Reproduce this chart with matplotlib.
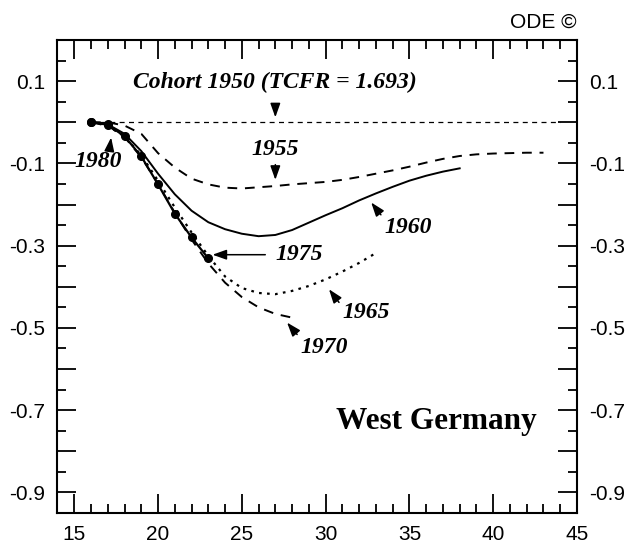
import numpy as np
import matplotlib.pyplot as plt
from matplotlib.ticker import MultipleLocator, FuncFormatter

# Data: deviation from cohort 1950 cumulative fertility, by age
age_1950 = [16, 44]
val_1950 = [0.0, 0.0]

age_1955 = list(range(16, 44))
val_1955 = [0.0, 0.0, -0.008, -0.028, -0.075, -0.11, -0.137, -0.151, -0.159, -0.161,
            -0.158, -0.155, -0.151, -0.148, -0.145, -0.14, -0.133, -0.125, -0.117,
            -0.108, -0.098, -0.089, -0.082, -0.078, -0.076, -0.075, -0.074, -0.074]

age_1960 = list(range(16, 39))
val_1960 = [0.0, -0.005, -0.028, -0.07, -0.125, -0.175, -0.215, -0.243, -0.26, -0.271,
            -0.277, -0.274, -0.262, -0.244, -0.226, -0.209, -0.19, -0.173, -0.157,
            -0.142, -0.13, -0.12, -0.112]

age_1965 = list(range(16, 34))
val_1965 = [0.0, -0.008, -0.035, -0.08, -0.142, -0.207, -0.268, -0.325, -0.375, -0.403,
            -0.415, -0.418, -0.41, -0.398, -0.382, -0.363, -0.342, -0.318]

age_1970 = list(range(16, 29))
val_1970 = [0.0, -0.008, -0.036, -0.085, -0.15, -0.22, -0.285, -0.343, -0.39, -0.425,
            -0.45, -0.466, -0.475]

age_1975 = list(range(16, 24))
val_1975 = [0.0, -0.006, -0.034, -0.083, -0.151, -0.222, -0.28, -0.331]

age_1980 = [16, 17]
val_1980 = [0.0, -0.004]

fig = plt.figure(figsize=(6.29, 5.49), dpi=100)
ax = fig.add_axes([0.0914, 0.0656, 0.8259, 0.8615])

ax.plot(age_1950, val_1950, color='k', lw=0.9, dashes=(4, 3.5))
ax.plot(age_1955, val_1955, color='k', lw=1.4, dashes=(5, 4))
ax.plot(age_1960, val_1960, color='k', lw=1.4)
ax.plot(age_1965, val_1965, color='k', lw=1.6, dashes=(1.2, 2.4))
ax.plot(age_1970, val_1970, color='k', lw=1.4, dashes=(5, 4))
ax.plot(age_1975, val_1975, color='k', lw=1.6, marker='o', ms=5.5)
ax.plot(age_1980, val_1980, color='k', lw=1.6, marker='o', ms=5.5)

ax.set_xlim(14, 45)
ax.set_ylim(-0.95, 0.2)

ax.xaxis.set_major_locator(MultipleLocator(5))
ax.xaxis.set_minor_locator(MultipleLocator(1))
ax.yaxis.set_major_locator(MultipleLocator(0.1))
ax.yaxis.set_minor_locator(MultipleLocator(0.05))


def ylab(v, pos):
    k = int(round(v * 10))
    return '%g' % (k / 10) if k % 2 else ''


ax.yaxis.set_major_formatter(FuncFormatter(ylab))
ax.xaxis.set_major_formatter(FuncFormatter(lambda v, p: '%d' % v))

ax.tick_params(which='both', direction='in', top=True, right=True,
               labelright=True, width=1.3, colors='k')
ax.tick_params(which='major', length=13.5, pad=9, labelsize=15)
ax.tick_params(which='minor', length=6.5)
for lab in ax.get_xticklabels() + ax.get_yticklabels():
    lab.set_family('Liberation Sans')
for s in ax.spines.values():
    s.set_linewidth(1.5)

lab_font = dict(family='Liberation Serif', style='italic', weight='bold',
                size=17, ha='center', va='center')
arrow = dict(arrowstyle='-|>,head_length=0.7,head_width=0.25', color='k',
             lw=1.1, shrinkA=0, shrinkB=0, mutation_scale=12)

ax.text(27.0, 0.098, 'Cohort 1950 (TCFR = 1.693)', **lab_font)
ax.annotate('', xy=(27.0, 0.012), xytext=(27.0, 0.045), arrowprops=arrow)

ax.text(27.0, -0.066, '1955', **lab_font)
ax.annotate('', xy=(27.0, -0.14), xytext=(27.0, -0.103), arrowprops=arrow)

ax.text(34.9, -0.256, '1960', **lab_font)
ax.annotate('', xy=(32.72, -0.195), xytext=(33.3, -0.225), arrowprops=arrow)

ax.text(28.4, -0.322, '1975', **lab_font)
ax.annotate('', xy=(23.25, -0.322), xytext=(26.4, -0.322), arrowprops=arrow)

ax.text(32.4, -0.462, '1965', **lab_font)
ax.annotate('', xy=(30.2, -0.406), xytext=(30.8, -0.438), arrowprops=arrow)

ax.text(29.9, -0.547, '1970', **lab_font)
ax.annotate('', xy=(27.7, -0.487), xytext=(28.3, -0.516), arrowprops=arrow)

ax.text(16.4, -0.096, '1980', **lab_font)
ax.annotate('', xy=(17.2, -0.037), xytext=(17.1, -0.068), arrowprops=arrow)

ax.text(36.6, -0.727, 'West Germany', family='Liberation Serif', weight='bold',
        size=22.5, ha='center', va='center')

fig.text(0.917, 0.96, 'ODE \u00a9', family='Liberation Sans', size=15,
         ha='right', va='center')

fig.savefig('out.png', dpi=100)
